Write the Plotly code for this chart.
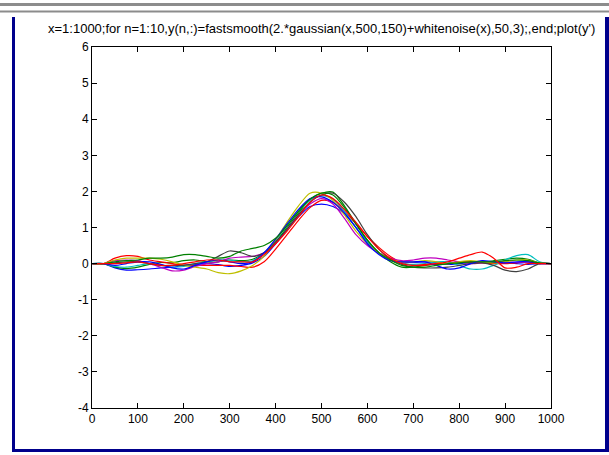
import plotly.graph_objects as go

x_pts = [1, 25, 50, 75, 100, 125, 150, 175, 200, 225, 250, 275, 300, 325, 350, 375, 400,
         425, 450, 475, 500, 525, 550, 575, 600, 625, 650, 675, 700, 725, 750, 775, 800,
         825, 850, 875, 900, 925, 950, 975, 1000]

s1_blue = [0, 0, -0.12, -0.18, -0.17, -0.15, -0.12, -0.1, -0.05, -0.02, 0.0, -0.03, -0.08, -0.05, 0.02, 0.2, 0.55,
           0.95, 1.3, 1.58, 1.65, 1.58, 1.38, 1.0, 0.6, 0.3, 0.12, 0.05, 0.03, 0.05, 0.03, -0.02, 0.0,
           0.03, 0.05, 0.05, 0.03, 0.0, -0.02, 0, 0]
s2_green = [0, 0, -0.1, -0.14, -0.1, -0.02, 0.03, 0.02, 0.08, 0.1, 0.05, 0.05, 0.1, 0.08, 0.12, 0.3, 0.6,
            1.0, 1.4, 1.78, 1.95, 1.98, 1.6, 1.1, 0.65, 0.3, 0.05, -0.1, -0.1, -0.05, -0.02, 0.0, 0.02,
            0.05, 0.05, 0.08, 0.12, 0.15, 0.12, 0.02, 0]
s3_red = [0, 0, 0.15, 0.22, 0.2, 0.1, 0.05, 0.0, -0.05, -0.05, -0.05, -0.05, -0.05, -0.08, -0.1, 0.05, 0.4,
          0.8, 1.2, 1.55, 1.75, 1.7, 1.45, 1.1, 0.75, 0.45, 0.2, 0.03, -0.05, -0.05, 0.0, 0.0, 0.05,
          0.05, 0.02, 0.0, 0.0, 0.02, 0.05, 0, 0]
s4_cyan = [0, 0, -0.08, -0.1, -0.05, 0.0, -0.05, -0.1, -0.08, 0.0, 0.05, 0.1, 0.1, 0.05, 0.08, 0.3, 0.65,
           1.05, 1.45, 1.75, 1.88, 1.78, 1.45, 1.0, 0.6, 0.3, 0.1, 0.0, -0.02, 0.0, 0.05, 0.05, -0.05,
           -0.15, -0.15, -0.05, 0.1, 0.22, 0.25, 0.05, 0]
s5_magenta = [0, 0, 0.08, 0.1, 0.08, 0.0, -0.1, -0.2, -0.18, -0.08, 0.0, 0.05, 0.15, 0.18, 0.2, 0.3, 0.55,
              0.95, 1.35, 1.65, 1.8, 1.65, 1.25, 0.8, 0.5, 0.3, 0.15, 0.08, 0.1, 0.15, 0.15, 0.1, 0.05,
              0.0, 0.02, 0.05, 0.05, 0.03, 0.05, 0.02, 0]
s6_yellow = [0, 0, 0.1, 0.15, 0.15, 0.15, 0.12, 0.05, -0.05, -0.1, -0.15, -0.25, -0.28, -0.2, -0.05, 0.2, 0.65,
             1.15, 1.6, 1.95, 1.95, 1.75, 1.35, 0.9, 0.55, 0.3, 0.12, 0.05, 0.05, 0.08, 0.05, 0.0, 0.05,
             0.08, 0.05, 0.02, 0.05, 0.1, 0.1, 0.02, 0]
s7_gray = [0, 0, 0.02, 0.05, 0.05, 0.0, -0.05, -0.05, -0.05, 0.0, 0.05, 0.2, 0.35, 0.3, 0.2, 0.3, 0.6,
           0.95, 1.35, 1.7, 1.9, 1.95, 1.7, 1.3, 0.8, 0.4, 0.12, -0.02, -0.1, -0.12, -0.12, -0.1, -0.05,
           0.0, 0.02, -0.05, -0.18, -0.22, -0.15, 0.0, 0]
s8_blue = [0, 0, -0.05, 0.0, 0.05, 0.05, -0.02, -0.12, -0.15, -0.05, 0.05, 0.1, 0.05, 0.0, 0.05, 0.3, 0.68,
           1.1, 1.5, 1.8, 1.85, 1.7, 1.4, 1.0, 0.55, 0.25, 0.08, 0.05, 0.05, 0.05, -0.05, -0.15, -0.12,
           0.0, 0.08, 0.05, 0.02, 0.05, 0.05, 0.0, 0]
s9_green = [0, 0, 0.05, 0.08, 0.1, 0.15, 0.15, 0.18, 0.25, 0.25, 0.2, 0.15, 0.2, 0.35, 0.42, 0.5, 0.7,
            1.05, 1.45, 1.78, 1.95, 1.9, 1.55, 1.1, 0.65, 0.3, 0.1, -0.05, -0.1, -0.1, -0.05, 0.0, 0.02,
            0.05, 0.05, 0.05, 0.08, 0.1, 0.08, 0.02, 0]
s10_red = [0, 0, 0.0, 0.02, 0.05, 0.0, -0.05, -0.05, 0.0, 0.05, 0.1, 0.1, 0.05, 0.05, 0.05, 0.25, 0.55,
           0.9, 1.3, 1.7, 1.9, 1.8, 1.5, 1.15, 0.75, 0.4, 0.15, 0.0, -0.05, -0.02, 0.0, 0.05, 0.15,
           0.25, 0.32, 0.15, -0.12, -0.1, 0.0, 0.0, 0]

series = [s1_blue, s2_green, s3_red, s4_cyan, s5_magenta, s6_yellow, s7_gray, s8_blue, s9_green, s10_red]
colors = ["rgb(0,0,255)", "rgb(0,128,0)", "rgb(255,0,0)", "rgb(0,191,191)", "rgb(191,0,191)",
          "rgb(191,191,0)", "rgb(64,64,64)", "rgb(0,0,255)", "rgb(0,128,0)", "rgb(255,0,0)"]

x_ticks = [0, 100, 200, 300, 400, 500, 600, 700, 800, 900, 1000]
y_ticks = [-4, -3, -2, -1, 0, 1, 2, 3, 4, 5, 6]

title_text = "x=1:1000;for n=1:10,y(n,:)=fastsmooth(2.*gaussian(x,500,150)+whitenoise(x),50,3);,end;plot(y')"

fig = go.Figure()
for ys, c in zip(series, colors):
    fig.add_trace(go.Scatter(x=x_pts, y=ys, mode="lines",
                             line=dict(color=c, width=1.2, shape="spline", smoothing=0.8),
                             showlegend=False, hoverinfo="skip"))

# plot area in pixels: x 92..551, y 47..408
L, R, T, B = 92, 551, 47, 408
W, H = R - L, B - T
def px(xp):
    return (xp - L) / W
def py(yp):
    return (B - yp) / H

shapes = [
    # top gray double rule
    dict(type="rect", xref="paper", yref="paper", x0=px(0), x1=px(609), y0=py(6), y1=py(3),
         fillcolor="rgb(140,140,140)", line=dict(width=0), layer="above"),
    dict(type="rect", xref="paper", yref="paper", x0=px(0), x1=px(609), y0=py(12.5), y1=py(10.5),
         fillcolor="rgb(140,140,140)", line=dict(width=0), layer="above"),
    # navy frame left, bottom, right
    dict(type="rect", xref="paper", yref="paper", x0=px(12), x1=px(15), y0=py(452), y1=py(17),
         fillcolor="rgb(0,0,140)", line=dict(width=0), layer="above"),
    dict(type="rect", xref="paper", yref="paper", x0=px(12), x1=px(609), y0=py(452), y1=py(449),
         fillcolor="rgb(0,0,140)", line=dict(width=0), layer="above"),
    dict(type="rect", xref="paper", yref="paper", x0=px(605), x1=px(609), y0=py(452), y1=py(17),
         fillcolor="rgb(0,0,140)", line=dict(width=0), layer="above"),
]

fig.update_layout(
    width=609, height=455,
    margin=dict(l=L, r=609 - R, t=T, b=455 - B, pad=0),
    paper_bgcolor="white", plot_bgcolor="white",
    font=dict(family="Liberation Sans, Arial, sans-serif", size=12, color="black"),
    shapes=shapes,
    annotations=[dict(text=title_text, xref="paper", yref="paper", x=px(321), y=py(28),
                      xanchor="center", yanchor="middle", showarrow=False,
                      font=dict(size=13, color="black"))],
    xaxis=dict(range=[0, 1000], tickvals=x_ticks, ticktext=[str(v) for v in x_ticks],
               ticks="inside", ticklen=5, tickcolor="black", showgrid=False, zeroline=False,
               showline=True, linecolor="black", linewidth=1, mirror="ticks",
               tickfont=dict(size=12)),
    yaxis=dict(range=[-4, 6], tickvals=y_ticks, ticktext=[str(v) for v in y_ticks],
               ticks="inside", ticklen=5, tickcolor="black", showgrid=False, zeroline=False,
               showline=True, linecolor="black", linewidth=1, mirror="ticks",
               tickfont=dict(size=12)),
)

fig.write_html("out.html", config={"displayModeBar": False},
               post_script="document.body.style.margin='0px';document.body.style.overflow='hidden';")
